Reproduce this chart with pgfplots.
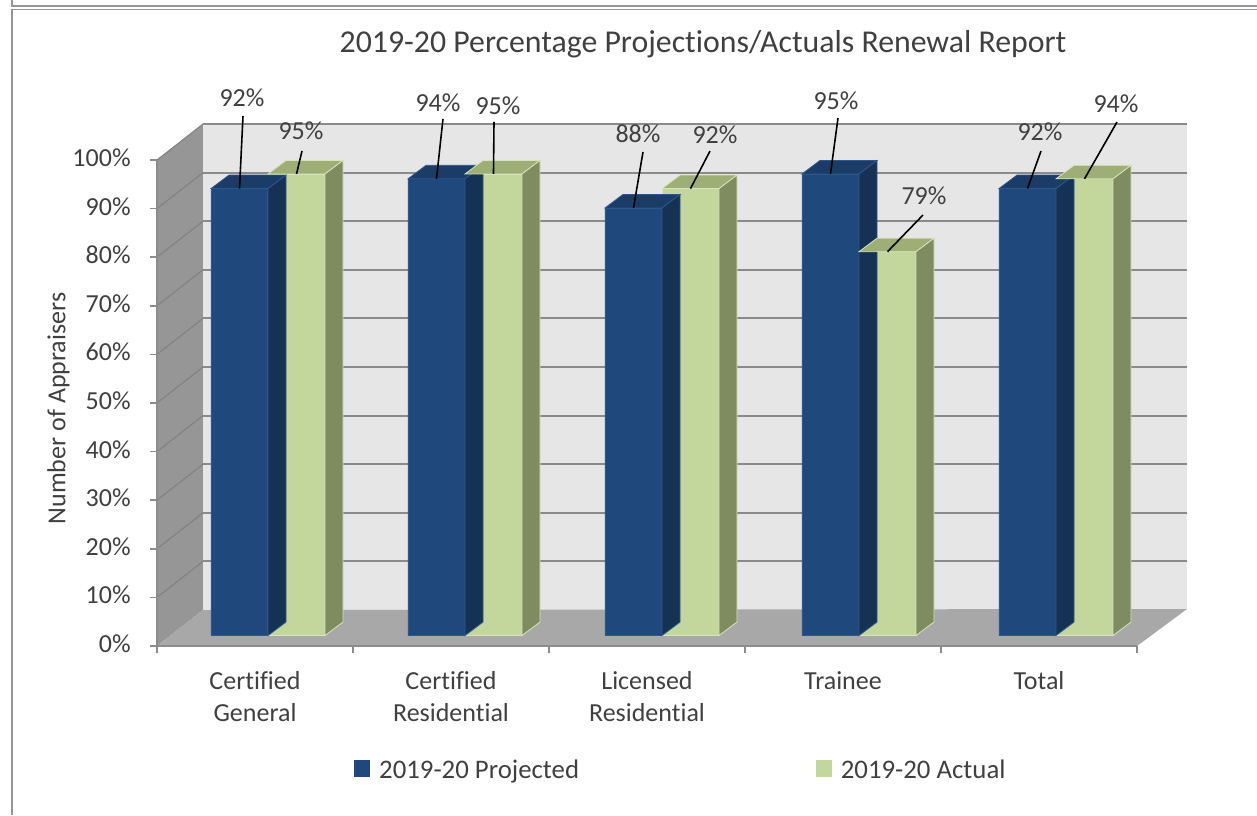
\documentclass[border=0pt]{standalone}
\usepackage{pgfplots}
\usepackage{pgfplotstable}
\usepackage{fontspec}
\setmainfont{Carlito}[Ligatures={NoCommon}, RawFeature={-liga;-clig;-dlig}]
\pgfplotsset{compat=1.18}

\definecolor{txt}{RGB}{64,64,64}
\definecolor{projfront}{RGB}{31,73,125}
\definecolor{projtop}{RGB}{26,60,102}
\definecolor{projside}{RGB}{21,49,84}
\definecolor{projedge}{RGB}{45,88,140}
\definecolor{actfront}{RGB}{195,214,155}
\definecolor{acttop}{RGB}{157,175,116}
\definecolor{actside}{RGB}{126,140,96}
\definecolor{actedge}{RGB}{215,228,189}
\definecolor{wallback}{RGB}{230,230,230}
\definecolor{wallside}{RGB}{150,150,150}
\definecolor{wallfloor}{RGB}{168,168,168}
\definecolor{gridc}{RGB}{138,138,138}
\definecolor{sidegrid}{RGB}{128,128,128}
\definecolor{axisc}{RGB}{140,140,140}
\definecolor{framec}{RGB}{150,150,150}

% x = category, y = value, lx/ly = leader line end (px), tx/ty = label base (px)
\pgfplotstableread{
x y lx ly tx ty
0 92 3.5 72.5 2.5 82.5
1 94 6.5 60 1.5 67.8
2 88 9.5 56 4.5 65
3 95 7.5 56 5.5 64
4 92 13.5 37.5 12.5 48.5
}\projtab
\pgfplotstableread{
x y lx ly tx ty
0 95 5.5 23 4.5 34
1 95 0.5 52 4.5 59
2 92 19.5 37.5 24.5 45.5
3 79 35.5 36.7 36.5 47.7
4 94 32.5 56.8 31.5 66.8
}\acttab

\pgfdeclareplotmark{faceL}{%
  \pgfmathsetmacro\hh{\barval*2.429}%
  \pgfsetlinewidth{0.4pt}%
  \pgfsetstrokecolor{projedge}%
  \pgfsetfillcolor{projtop}%
  \pgfpathmoveto{\pgfpoint{-28.5pt}{0pt}}%
  \pgfpathlineto{\pgfpoint{0pt}{0pt}}%
  \pgfpathlineto{\pgfpoint{9pt}{6.75pt}}%
  \pgfpathlineto{\pgfpoint{-19.5pt}{6.75pt}}%
  \pgfpathclose
  \pgfusepath{fill,stroke}%
  \pgfsetfillcolor{projside}%
  \pgfpathmoveto{\pgfpoint{0pt}{0pt}}%
  \pgfpathlineto{\pgfpoint{9pt}{6.75pt}}%
  \pgfpathlineto{\pgfpoint{9pt}{6.75pt-\hh pt}}%
  \pgfpathlineto{\pgfpoint{0pt}{-\hh pt}}%
  \pgfpathclose
  \pgfusepath{fill,stroke}%
}
\pgfdeclareplotmark{faceR}{%
  \pgfmathsetmacro\hh{\barval*2.429}%
  \pgfsetlinewidth{0.4pt}%
  \pgfsetstrokecolor{actedge}%
  \pgfsetfillcolor{acttop}%
  \pgfpathmoveto{\pgfpoint{0pt}{0pt}}%
  \pgfpathlineto{\pgfpoint{28.5pt}{0pt}}%
  \pgfpathlineto{\pgfpoint{37.5pt}{6.75pt}}%
  \pgfpathlineto{\pgfpoint{9pt}{6.75pt}}%
  \pgfpathclose
  \pgfusepath{fill,stroke}%
  \pgfsetfillcolor{actside}%
  \pgfpathmoveto{\pgfpoint{28.5pt}{0pt}}%
  \pgfpathlineto{\pgfpoint{37.5pt}{6.75pt}}%
  \pgfpathlineto{\pgfpoint{37.5pt}{6.75pt-\hh pt}}%
  \pgfpathlineto{\pgfpoint{28.5pt}{-\hh pt}}%
  \pgfpathclose
  \pgfusepath{fill,stroke}%
}
\pgfdeclareplotmark{leaderL}{%
  \pgfsetstrokecolor{black}\pgfsetlinewidth{0.8pt}%
  \pgfpathmoveto{\pgfpoint{-14.25pt}{0pt}}%
  \pgfpathlineto{\pgfpoint{\lxx*0.5pt-14.25pt}{\lyy*0.5pt}}%
  \pgfusepath{stroke}%
}
\pgfdeclareplotmark{leaderR}{%
  \pgfsetstrokecolor{black}\pgfsetlinewidth{0.8pt}%
  \pgfpathmoveto{\pgfpoint{14.25pt}{0pt}}%
  \pgfpathlineto{\pgfpoint{\lxx*0.5pt+14.25pt}{\lyy*0.5pt}}%
  \pgfusepath{stroke}%
}

\pgfplotsset{
  /pgf/number format/assume math mode=true,
  nolabels/.style={scatter, only marks, forget plot,
    scatter/use mapped color={draw=black, fill=black}},
}

\begin{document}
\begin{tikzpicture}
\path[use as bounding box] (-78.5pt,-84.5pt) rectangle (550pt,323pt);
\draw[framec, line width=0.8pt] (-72.5pt,323pt) -- (-72.5pt,320pt) -- (550pt,320pt);
\draw[framec, line width=0.8pt] (550pt,318.2pt) -- (-72.5pt,318.2pt) -- (-72.5pt,-84.5pt);

\begin{axis}[name=A, at={(0pt,0pt)}, anchor=south west,
  scale only axis, width=490pt, height=243pt,
  xmin=-0.5, xmax=4.5, ymin=0, ymax=100, clip=false,
  axis x line*=bottom, axis y line*=left, axis on top,
  axis line style={draw=axisc, line width=0.75pt, -},
  every outer x axis line/.append style={-},
  every outer y axis line/.append style={-},
  every inner x axis line/.append style={-},
  every inner y axis line/.append style={-},
  tick align=outside, major tick length=3.5pt,
  ytick={0,10,...,100},
  yticklabels={0\%,10\%,20\%,30\%,40\%,50\%,60\%,70\%,80\%,90\%,100\%},
  ytick style={draw=axisc, line width=0.75pt},
  xtick={0,1,2,3,4},
  xticklabels={Certified\\General, Certified\\Residential, Licensed\\Residential, Trainee, Total},
  xtick style={draw=none},
  tick label style={font=\fontsize{13}{16}\selectfont, text=txt},
  yticklabel style={inner sep=0pt, anchor=east, xshift=-9.5pt},
  xticklabel style={align=center, inner sep=0pt, anchor=north, yshift=-7pt},
  typeset ticklabels with strut,
  title={2019-20 Percentage Projections/Actuals Renewal Report},
  title style={at={(axis description cs:0.5571,1.1955)}, anchor=base,
    font=\fontsize{15.9}{19}\selectfont, text=txt, inner sep=0pt},
  ylabel={Number of Appraisers},
  ylabel style={at={(axis description cs:-0.1005,0.4887)}, anchor=center,
    font=\fontsize{13}{16}\selectfont, text=txt, inner sep=0pt},
]
% back wall
\fill[wallback] ([xshift=23pt,yshift=18pt]axis cs:-0.5,0) -- ([xshift=25pt,yshift=18pt]axis cs:4.5,0)
  -- ([xshift=25pt,yshift=18pt]axis cs:4.5,100) -- ([xshift=23pt,yshift=18pt]axis cs:-0.5,100) -- cycle;
% side wall
\fill[wallside] (axis cs:-0.5,0) -- (axis cs:-0.5,100) -- ([xshift=23pt,yshift=18pt]axis cs:-0.5,100)
  -- ([xshift=23pt,yshift=18pt]axis cs:-0.5,0) -- cycle;
% floor
\fill[wallfloor] (axis cs:-0.5,0) -- (axis cs:4.5,0) -- ([xshift=25pt,yshift=18.5pt]axis cs:4.5,0)
  -- ([xshift=23pt,yshift=18pt]axis cs:-0.5,0) -- cycle;
% grid lines on the walls
\pgfplotsinvokeforeach{10,20,...,100}{
  \draw[gridc, line width=1pt] ([xshift=23pt,yshift=18pt]axis cs:-0.5,#1) -- ([xshift=25pt,yshift=18pt]axis cs:4.5,#1);
  \draw[sidegrid, line width=0.5pt] (axis cs:-0.5,#1) -- ([xshift=23pt,yshift=18pt]axis cs:-0.5,#1);
}
% category boundary ticks
\pgfplotsinvokeforeach{-0.5,0.5,1.5,2.5,3.5,4.5}{
  \draw[axisc, line width=0.75pt] (axis cs:#1,0) -- ([yshift=-3.5pt]axis cs:#1,0);
}
\end{axis}

\begin{axis}[name=B, at={(6.25pt,5.25pt)}, anchor=south west,
  scale only axis, width=492.5pt, height=242.9pt,
  xmin=-0.5, xmax=4.5, ymin=0, ymax=100,
  hide axis, clip=false,
  legend columns=2,
  legend style={draw=none, fill=none, inner sep=0pt,
    at={(axis description cs:0.1868,-0.2779)}, anchor=west,
    font=\fontsize{13.4}{16}\selectfont, text=txt,
    nodes={inner sep=1.75pt},
    /tikz/every odd column/.append style={column sep=3pt},
    /tikz/every even column/.append style={column sep=116.5pt}},
]
\addplot[ybar, bar width=28.5pt, bar shift=-14.25pt, fill=projfront, draw=projedge, line width=0.4pt,
  legend image code/.code={\fill[projfront] (0pt,-3pt) rectangle (7.5pt,5pt);}]
  table[x=x,y=y]{\projtab};
\addlegendentry{2019-20 Projected}
\addplot[nolabels, mark=faceL, visualization depends on={rawy \as \barval}]
  table[x=x,y=y]{\projtab};

\addplot[ybar, bar width=28.5pt, bar shift=14.25pt, fill=actfront, draw=actedge, line width=0.4pt,
  legend image code/.code={\fill[actfront] (0pt,-3pt) rectangle (7.5pt,5pt);}]
  table[x=x,y=y]{\acttab};
\addlegendentry{2019-20 Actual}
\addplot[nolabels, mark=faceR, visualization depends on={rawy \as \barval}]
  table[x=x,y=y]{\acttab};

% leader lines and data labels
\addplot[nolabels, mark=leaderL,
  visualization depends on={\thisrow{lx} \as \lxx},
  visualization depends on={\thisrow{ly} \as \lyy},
  visualization depends on={\thisrow{tx} \as \txx},
  visualization depends on={\thisrow{ty} \as \tyy},
  nodes near coords={\pgfmathprintnumber[fixed,precision=0]{\pgfplotspointmeta}\%},
  every node near coord/.append style={anchor=base, inner sep=0pt, text=txt,
    font=\fontsize{13}{16}\selectfont,
    xshift=\txx*0.5pt-14.25pt, yshift=\tyy*0.5pt}]
  table[x=x,y=y]{\projtab};
\addplot[nolabels, mark=leaderR,
  visualization depends on={\thisrow{lx} \as \lxx},
  visualization depends on={\thisrow{ly} \as \lyy},
  visualization depends on={\thisrow{tx} \as \txx},
  visualization depends on={\thisrow{ty} \as \tyy},
  nodes near coords={\pgfmathprintnumber[fixed,precision=0]{\pgfplotspointmeta}\%},
  every node near coord/.append style={anchor=base, inner sep=0pt, text=txt,
    font=\fontsize{13}{16}\selectfont,
    xshift=\txx*0.5pt+14.25pt, yshift=\tyy*0.5pt}]
  table[x=x,y=y]{\acttab};
\end{axis}
\end{tikzpicture}
\end{document}
